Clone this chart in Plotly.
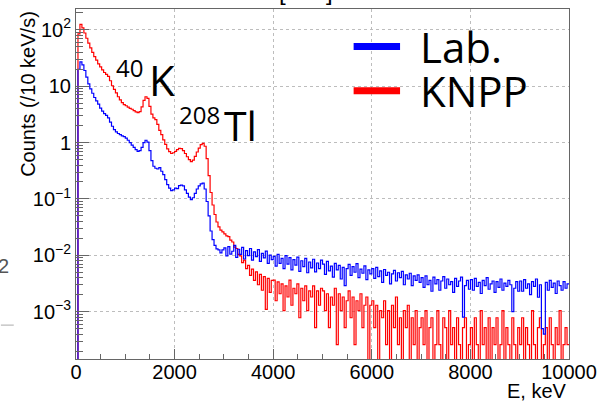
import numpy as np
import plotly.graph_objects as go

# ---------------- data (counts per 10 keV per s, sampled on 40 keV steps) ----------------
bin_width_kev = 40

# 0 - 2960 keV, counts/s
lab_low = [0, 20, 27, 24, 19, 14.5, 11, 9, 7.5, 6.3,
           5.5, 4.8, 4.1, 3.6, 3.25, 3.05, 2.75, 2.3, 1.95, 1.7,
           1.55, 1.45, 1.38, 1.32, 1.27, 1.2, 1.1, 1.0, 0.9, 0.82,
           0.75, 0.70, 0.72, 0.82, 1.0, 1.1, 1.02, 0.72, 0.48, 0.38,
           0.35, 0.34, 0.36, 0.31, 0.27, 0.22, 0.18, 0.155, 0.14, 0.145,
           0.155, 0.152, 0.172, 0.176, 0.17, 0.145, 0.125, 0.108, 0.097, 0.105,
           0.125, 0.15, 0.17, 0.185, 0.19, 0.15, 0.09, 0.05, 0.027, 0.019,
           0.015, 0.013, 0.0125, 0.011, 0.0125]

knpp_low = [0, 85, 125, 108, 88, 71, 58, 48, 40, 33.5,
            29, 25, 22, 19.5, 17.5, 16.2, 15, 12.5, 10.2, 8.8,
            7.6, 6.5, 5.7, 5.1, 4.7, 4.5, 4.25, 4.05, 3.9, 3.7,
            3.5, 3.4, 3.55, 4.3, 5.6, 6.5, 6.1, 4.4, 3.2, 2.75,
            2.55, 2.1, 1.65, 1.38, 1.12, 0.93, 0.77, 0.69, 0.64, 0.66,
            0.70, 0.75, 0.79, 0.78, 0.72, 0.64, 0.56, 0.50, 0.46, 0.49,
            0.57, 0.68, 0.80, 0.92, 0.97, 0.86, 0.52, 0.26, 0.13, 0.078,
            0.053, 0.039, 0.032, 0.028, 0.026]

# 3000 - 9960 keV, in units of 1e-4 counts/s
lab_tail_1e4 = [
    135, 98, 142, 105, 118, 150, 92, 128, 104, 138, 86, 121, 99, 132, 82, 115, 95, 126, 78, 108, 90, 119, 72, 101, 84,
    96, 64, 104, 72, 88, 58, 99, 70, 91, 55, 84, 67, 93, 52, 80, 63, 88, 49, 76, 60, 85, 51, 73, 58, 82,
    70, 46, 78, 53, 64, 41, 72, 55, 66, 38, 61, 29, 58, 69, 44, 63, 50, 71, 40, 57, 48, 65, 37, 55, 47,
    58, 39, 61, 42, 53, 33, 56, 44, 50, 31, 47, 54, 35, 49, 40, 52, 30, 45, 38, 48, 29, 43, 36, 45, 33,
    40, 27, 43, 30, 36, 23, 41, 31, 37, 24, 35, 42, 26, 38, 30, 34, 22, 39, 28, 35, 41, 8, 29, 36, 25,
    37, 24, 39, 28, 33, 21, 36, 29, 40, 25, 31, 35, 22, 34, 27, 38, 24, 32, 28, 36, 30, 10, 26, 34, 23,
    35, 23, 37, 26, 31, 20, 34, 28, 38, 18, 30, 5, 4, 33, 24, 36, 27, 32, 21, 35, 29, 24, 34, 26, 31]

knpp_tail_1e4 = [
    240, 222, 214, 186, 172, 140, 132, 104, 98, 74, 82, 58, 66, 44, 57, 36, 51, 30, 46, 24, 42, 11, 39, 22, 36,
    36.4, 15.6, 33.8, 20.8, 31.2, 10.4, 28.6, 18.2, 36.4, 13, 26, 20.8, 31.2, 7.8, 26, 15.6, 28.6, 10.4, 23.4, 18.2, 28.6, 5.2, 23.4, 13, 26,
    23.4, 10.4, 20.8, 5.2, 18.2, 13, 26, 2.6, 20.8, 10.4, 18.2, 5.2, 15.6, 23.4, 7.8, 18.2, 2.6, 15.6, 10.4, 20.8, 5.2, 13, 18.2, 0, 13,
    15.6, 5.2, 13, 0, 10.4, 7.8, 15.6, 2.6, 10.4, 0, 13, 5.2, 18.2, 2.6, 7.8, 0, 10.4, 5.2, 13, 0, 7.8, 2.6, 10.4, 0, 5.2,
    7.8, 2.6, 10.4, 0, 5.2, 7.8, 0, 2.6, 10.4, 2.6, 0, 7.8, 5.2, 0, 10.4, 2.6, 5.2, 0, 7.8, 2.6, 0, 5.2, 7.8, 0, 2.6,
    5.2, 0, 7.8, 2.6, 0, 10.4, 2.6, 5.2, 0, 7.8, 0, 5.2, 2.6, 7.8, 0, 2.6, 10.4, 0, 5.2, 2.6, 0, 7.8, 2.6, 0, 5.2,
    2.6, 7.8, 0, 5.2, 2.6, 0, 10.4, 2.6, 0, 5.2, 7.8, 0, 2.6, 5.2, 0, 7.8, 2.6, 0, 5.2, 2.6, 10.4, 0, 2.6, 5.2, 2.6]

y_tick_vals = [1e-3, 1e-2, 1e-1, 1, 10, 100]
y_tick_text = ["10<sup>\u22123</sup>", "10<sup>\u22122</sup>", "10<sup>\u22121</sup>", "1", "10", "10<sup>2</sup>"]
x_tick_vals = [0, 2000, 4000, 6000, 8000, 10000]
x_tick_text = ["0", "2000", "4000", "6000", "8000", "10000"]

# ---------------- build step histograms ----------------
lab = np.array(lab_low + [v * 1e-4 for v in lab_tail_1e4], dtype=float)
knpp = np.array(knpp_low + [v * 1e-4 for v in knpp_tail_1e4], dtype=float)
edges = np.arange(len(lab) + 1) * bin_width_kev


def step_values(v):
    y = np.append(v, v[-1])
    return np.where(y > 0, y, 1e-7)  # empty bins drop below the axis


fig = go.Figure()
fig.add_trace(go.Scatter(x=edges, y=step_values(knpp), mode="lines",
                         line=dict(color="#ff0000", width=1.2, shape="hv"),
                         name="KNPP", showlegend=False))
fig.add_trace(go.Scatter(x=edges, y=step_values(lab), mode="lines",
                         line=dict(color="#0000ff", width=1.2, shape="hv"),
                         name="Lab.", showlegend=False))

W, H = 605, 402
L, R, T, B = 76, 30, 8, 43
pw, ph = W - L - R, H - T - B


def px(x):
    return (x - L) / pw


def py(y):
    return (H - B - y) / ph


axis_col = "#666666"
grid_col = "#bdbdbd"

fig.update_layout(
    width=W, height=H, margin=dict(l=L, r=R, t=T, b=B),
    paper_bgcolor="white", plot_bgcolor="white",
    font=dict(family="Liberation Sans, Arial, sans-serif", size=20, color="black"),
    xaxis=dict(range=[0, 10000], tickvals=x_tick_vals, ticktext=x_tick_text, ticks="inside", ticklen=10,
               tickcolor=axis_col, showline=True, linecolor=axis_col, linewidth=1, mirror=True,
               showgrid=True, gridcolor=grid_col, griddash="dot", gridwidth=1, zeroline=False,
               tickfont=dict(size=20), ticklabelstandoff=-5,
               minor=dict(ticks="inside", ticklen=5, dtick=500, tickcolor=axis_col, showgrid=False)),
    yaxis=dict(type="log", range=[-3.84, 2.37], tickvals=y_tick_vals, ticktext=y_tick_text,
               ticks="inside", ticklen=13, tickcolor=axis_col, showline=True, linecolor=axis_col,
               linewidth=1, mirror=True, showgrid=True, gridcolor=grid_col, griddash="dot",
               gridwidth=1, zeroline=False, tickfont=dict(size=20),
               minor=dict(ticks="inside", ticklen=7, dtick="D1", tickcolor=axis_col, showgrid=False)),
)

big = "Open Sans, sans-serif"
ann = [
    dict(text="Counts (/10 keV/s)", x=px(28), y=py(93.5), textangle=-90,
         font=dict(size=20), xanchor="center", yanchor="middle"),
    dict(text="E, keV", x=1.0, y=py(391), xanchor="right", yanchor="middle", font=dict(size=20)),
    dict(text="40", x=px(130), y=py(66.5), xanchor="center", yanchor="middle", font=dict(family=big, size=24)),
    dict(text="K", x=px(163.5), y=py(78.5), xanchor="center", yanchor="middle", font=dict(family=big, size=42)),
    dict(text="208", x=px(201.5), y=py(113.5), xanchor="center", yanchor="middle", font=dict(family=big, size=24)),
    dict(text="Tl", x=px(242.5), y=py(124), xanchor="center", yanchor="middle", font=dict(family=big, size=41)),
    dict(text="Lab.", x=px(422), y=py(46), xanchor="left", yanchor="middle", font=dict(family=big, size=42)),
    dict(text="KNPP", x=px(422), y=py(90), xanchor="left", yanchor="middle", font=dict(family=big, size=42)),
    dict(text="[", x=px(285), y=py(6), xanchor="center", yanchor="bottom", font=dict(size=24)),
    dict(text="]", x=px(333), y=py(6), xanchor="center", yanchor="bottom", font=dict(size=24)),
    dict(text="2", x=px(10), y=py(266), xanchor="right", yanchor="middle", font=dict(size=20, color="#555555")),
]
for a in ann:
    a.update(xref="paper", yref="paper", showarrow=False)
fig.update_layout(annotations=ann)

fig.update_layout(shapes=[
    dict(type="line", xref="paper", yref="paper", x0=px(357), x1=px(404), y0=py(45.5), y1=py(45.5),
         line=dict(color="#0000ff", width=7)),
    dict(type="line", xref="paper", yref="paper", x0=px(357), x1=px(404), y0=py(90), y1=py(90),
         line=dict(color="#ff0000", width=7)),
    dict(type="line", xref="paper", yref="paper", x0=px(0), x1=px(13), y0=py(325), y1=py(325),
         line=dict(color="#aaaaaa", width=1)),
])

fig.write_html("out.html")
